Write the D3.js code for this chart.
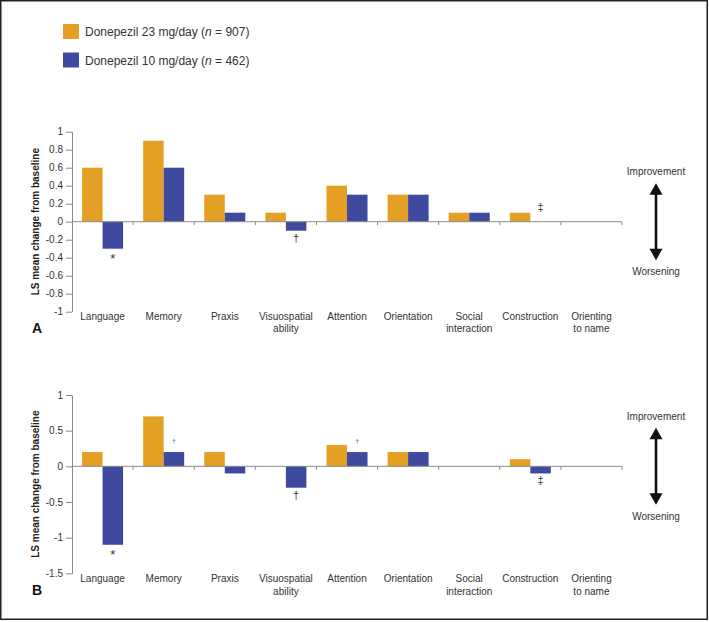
<!DOCTYPE html>
<html>
<head>
<meta charset="utf-8">
<script src="https://cdn.jsdelivr.net/npm/d3@7"></script>
<style>
  html, body { margin: 0; padding: 0; background: #fff; }
  svg { display: block; font-family: "Liberation Sans", Arial, Helvetica, sans-serif; }
</style>
</head>
<body>
<svg id="chart" width="709" height="622"></svg>
<script>
// ---------------- DATA ----------------
const categories = ["Language", "Memory", "Praxis", "Visuospatial ability", "Attention",
                    "Orientation", "Social interaction", "Construction", "Orienting to name"];
const categoryLines = [["Language"], ["Memory"], ["Praxis"], ["Visuospatial", "ability"], ["Attention"],
                       ["Orientation"], ["Social", "interaction"], ["Construction"], ["Orienting", "to name"]];
const seriesNames = ["Donepezil 23 mg/day", "Donepezil 10 mg/day"];
const seriesN = ["907", "462"];

const panelA_23mg = [0.6, 0.9, 0.3, 0.1, 0.4, 0.3, 0.1, 0.1, 0];
const panelA_10mg = [-0.3, 0.6, 0.1, -0.1, 0.3, 0.3, 0.1, 0, 0];
const panelA_ticks = [1, 0.8, 0.6, 0.4, 0.2, 0, -0.2, -0.4, -0.6, -0.8, -1];

const panelB_23mg = [0.2, 0.7, 0.2, 0, 0.3, 0.2, 0, 0.1, 0];
const panelB_10mg = [-1.1, 0.2, -0.1, -0.3, 0.2, 0.2, 0, -0.1, 0];
const panelB_ticks = [1, 0.5, 0, -0.5, -1, -1.5];

// significance marks: [category index, series index, symbol, size]
const panelA_marks = [[0, 1, "*", "normal"], [3, 1, "†", "normal"], [7, 1, "‡", "normal"]];
const panelB_marks = [[0, 1, "*", "normal"], [1, 1, "†", "small"], [3, 1, "†", "normal"],
                      [4, 1, "†", "small"], [7, 1, "‡", "normal"]];

// ---------------- STYLE ----------------
const colors = ["#E3A024", "#3D4A9F"];
const svg = d3.select("#chart");

// frame
svg.append("rect").attr("x", 0.75).attr("y", 0.75).attr("width", 706.5).attr("height", 618.5)
  .attr("fill", "none").attr("stroke", "#222").attr("stroke-width", 1.5);

// legend
const legend = svg.append("g");
seriesNames.forEach((name, i) => {
  const ly = 24 + i * 28.5;
  legend.append("rect").attr("x", 63).attr("y", ly).attr("width", 16).attr("height", 15)
    .attr("fill", colors[i]);
  const t = legend.append("text").attr("x", 85).attr("y", ly + 12)
    .attr("font-size", 12).attr("fill", "#333");
  t.append("tspan").text(name + " (");
  t.append("tspan").attr("font-style", "italic").text("n");
  t.append("tspan").text(" = " + seriesN[i] + ")");
});

const xLeft = 72, xRight = 622;
const x0 = d3.scaleBand().domain(categories).range([xLeft, xRight]).padding(0);
const x1 = d3.scaleBand().domain([0, 1]).range([0, x0.bandwidth()]).paddingInner(0).paddingOuter(0.49);

function drawPanel(cfg) {
  const g = svg.append("g");
  const y = d3.scaleLinear().domain(cfg.domain).range(cfg.range);
  const series = [cfg.s23, cfg.s10];

  // bars
  series.forEach((vals, si) => {
    g.selectAll(null).data(vals.map((v, i) => ({ v, c: categories[i] })))
      .enter().append("rect")
      .filter(d => d.v !== 0)
      .attr("x", d => x0(d.c) + x1(si))
      .attr("width", x1.bandwidth())
      .attr("y", d => y(Math.max(0, d.v)))
      .attr("height", d => Math.abs(y(d.v) - y(0)))
      .attr("fill", colors[si]);
  });

  // y axis
  const yAxis = d3.axisLeft(y).tickValues(cfg.ticks).tickSize(6).tickSizeOuter(0).tickPadding(3)
    .tickFormat(d => String(+d.toFixed(2)));
  const ag = g.append("g").attr("transform", `translate(${xLeft},0)`).call(yAxis);
  ag.select(".domain").attr("stroke", "#8a8a8a");
  ag.selectAll(".tick line").attr("stroke", "#8a8a8a");
  ag.selectAll(".tick text").attr("font-size", 10).attr("fill", "#333")
    .attr("font-family", '"Liberation Sans", Arial, sans-serif');

  // zero line with small ticks at band boundaries
  const zg = g.append("g");
  zg.append("line").attr("x1", xLeft).attr("x2", xRight).attr("y1", y(0)).attr("y2", y(0))
    .attr("stroke", "#8a8a8a").attr("stroke-width", 1);
  const bounds = categories.map(c => x0(c)).slice(1).concat([xRight]);
  zg.selectAll(null).data(bounds).enter().append("line")
    .attr("x1", d => d).attr("x2", d => d).attr("y1", y(0)).attr("y2", y(0) + 3.5)
    .attr("stroke", "#8a8a8a");

  // category labels
  const baseY = y(cfg.domain[0]) + cfg.labelOffset;
  categoryLines.forEach((lines, i) => {
    const t = g.append("text").attr("text-anchor", "middle").attr("font-size", 10).attr("fill", "#333")
      .attr("x", x0(categories[i]) + x0.bandwidth() / 2).attr("y", baseY);
    lines.forEach((ln, j) => t.append("tspan").attr("x", x0(categories[i]) + x0.bandwidth() / 2)
      .attr("dy", j === 0 ? 0 : 12.5).text(ln));
  });

  // y title
  const midY = (cfg.range[0] + cfg.range[1]) / 2;
  g.append("text").attr("transform", `translate(38.5,${midY}) rotate(-90)`)
    .attr("text-anchor", "middle").attr("font-size", 10).attr("font-weight", "bold").attr("fill", "#222")
    .text("LS mean change from baseline");

  // panel letter
  g.append("text").attr("x", 32).attr("y", cfg.letterY).attr("font-size", 14).attr("font-weight", "bold")
    .attr("fill", "#111").text(cfg.letter);

  // significance marks
  cfg.marks.forEach(([ci, si, sym, size]) => {
    const v = series[si][ci];
    const cx = x0(categories[ci]) + x1(si) + x1.bandwidth() / 2;
    let by;
    const below = v < 0 || (v === 0 && cfg.zeroBelow);
    if (size === "small") {
      by = y(Math.max(0, v)) - 9;
    } else if (sym === "*") {
      by = y(Math.min(0, v)) + 14;
    } else if (below) {
      by = y(Math.min(0, v)) + 11;
    } else {
      by = y(Math.max(0, v)) - 11;
    }
    g.append("text").attr("x", cx).attr("y", by).attr("text-anchor", "middle")
      .attr("font-size", size === "small" ? 6 : (sym === "*" ? 13 : 11)).attr("fill", "#333").text(sym);
  });

  // improvement / worsening arrow
  const ax = 656, y0 = y(0);
  const arr = g.append("g");
  arr.append("line").attr("x1", ax).attr("x2", ax).attr("y1", y0 - 30).attr("y2", y0 + 30)
    .attr("stroke", "#111").attr("stroke-width", 2.6);
  arr.append("path").attr("d", `M${ax},${y0 - 38.5} L${ax - 6.5},${y0 - 27} L${ax + 6.5},${y0 - 27} Z`).attr("fill", "#111");
  arr.append("path").attr("d", `M${ax},${y0 + 38.5} L${ax - 6.5},${y0 + 27} L${ax + 6.5},${y0 + 27} Z`).attr("fill", "#111");
  arr.append("text").attr("x", ax).attr("y", y0 - 46.5).attr("text-anchor", "middle")
    .attr("font-size", 10).attr("fill", "#333").text("Improvement");
  arr.append("text").attr("x", ax).attr("y", y0 + 53.5).attr("text-anchor", "middle")
    .attr("font-size", 10).attr("fill", "#333").text("Worsening");
}

drawPanel({ letter: "A", domain: [-1, 1], range: [311.7, 131.7], ticks: panelA_ticks,
  s23: panelA_23mg, s10: panelA_10mg, marks: panelA_marks, labelOffset: 8, letterY: 333, zeroBelow: false });
drawPanel({ letter: "B", domain: [-1.5, 1], range: [573.3, 395], ticks: panelB_ticks,
  s23: panelB_23mg, s10: panelB_10mg, marks: panelB_marks, labelOffset: 9, letterY: 595, zeroBelow: true });
</script>
</body>
</html>
